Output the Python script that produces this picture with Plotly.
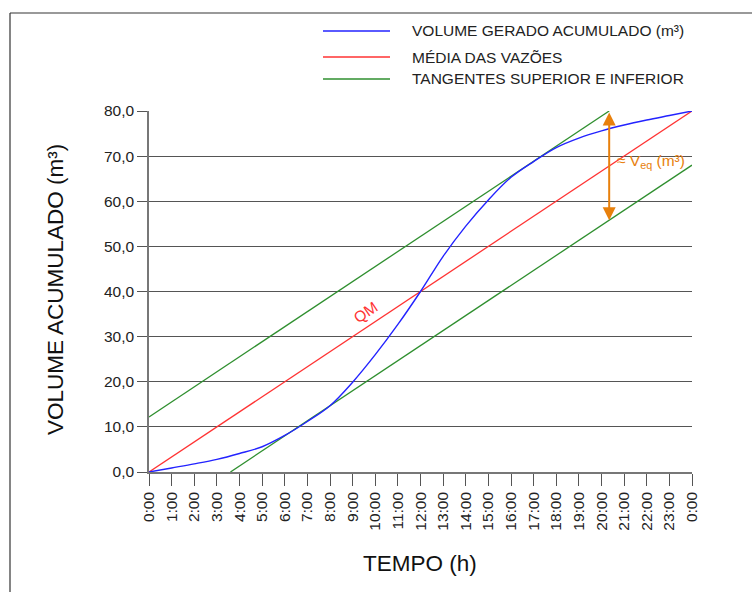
import plotly.graph_objects as go

# ---- data ----
hours = list(range(25))
hour_labels = [f"{h}:00" for h in range(24)] + ["0:00"]
volume = [0, 0.9, 1.8, 2.8, 4.1, 5.6, 8.1, 11.2, 14.7, 19.9, 26.0, 32.7, 40.0,
          47.8, 54.5, 60.3, 65.3, 68.8, 71.9, 74.0, 75.6, 76.9, 78.0, 79.0, 80.0]
mean_x = [0, 24]
mean_y = [0, 80]
upper_x = [0, 20.34]
upper_y = [12.2, 80]
lower_x = [3.6, 24]
lower_y = [0, 68]
y_ticks = [0, 10, 20, 30, 40, 50, 60, 70, 80]
y_labels = [f"{v:.1f}".replace(".", ",") for v in y_ticks]

BLUE = "#2323ff"
RED = "#ff3333"
GREEN = "#2f8f2f"
ORANGE = "#e8800c"
FONT = "Liberation Sans, Arial, sans-serif"

fig = go.Figure()
fig.add_trace(go.Scatter(x=upper_x, y=upper_y, mode="lines",
                         line=dict(color=GREEN, width=1.3), showlegend=False))
fig.add_trace(go.Scatter(x=lower_x, y=lower_y, mode="lines",
                         line=dict(color=GREEN, width=1.3), showlegend=False))
fig.add_trace(go.Scatter(x=mean_x, y=mean_y, mode="lines",
                         line=dict(color=RED, width=1.3), showlegend=False))
fig.add_trace(go.Scatter(x=hours, y=volume, mode="lines",
                         line=dict(color=BLUE, width=1.4, shape="spline", smoothing=1.0),
                         showlegend=False))

# arrow between tangents
ax_x = upper_x[-1]
slope = (lower_y[1] - lower_y[0]) / (lower_x[1] - lower_x[0])
bottom_y = lower_y[0] + slope * (ax_x - lower_x[0])
fig.add_annotation(x=ax_x, y=bottom_y, ax=ax_x, ay=upper_y[-1], xref="x", yref="y",
                   axref="x", ayref="y", showarrow=True, arrowhead=2, arrowside="end+start",
                   arrowsize=1.3, arrowwidth=2, arrowcolor=ORANGE, text="")
fig.add_annotation(x=20.6, y=68.8, xref="x", yref="y", xanchor="left", yanchor="middle",
                   showarrow=False, text="≈ V<sub>eq</sub> (m³)",
                   font=dict(family=FONT, size=15.5, color=ORANGE))
fig.add_annotation(x=9.55, y=35.4, xref="x", yref="y", showarrow=False, text="QM",
                   textangle=-33.6, font=dict(family=FONT, size=15.5, color=RED))

# custom legend
legend_items = [("VOLUME GERADO ACUMULADO (m³)", BLUE, 31),
                ("MÉDIA DAS VAZÕES", RED, 57),
                ("TANGENTES SUPERIOR E INFERIOR", GREEN, 79)]
def px_x(p):
    return (p - 149) / 543
def px_y(p):
    return (472 - p) / 361
for name, col, ypx in legend_items:
    fig.add_shape(type="line", xref="paper", yref="paper", x0=px_x(323), x1=px_x(390),
                  y0=px_y(ypx), y1=px_y(ypx), line=dict(color=col, width=1.5))
    fig.add_annotation(xref="paper", yref="paper", x=px_x(410), y=px_y(ypx), xanchor="left",
                       yanchor="middle", showarrow=False, text=name,
                       font=dict(family=FONT, size=15.5, color="#222"))

# frame lines
fig.add_shape(type="line", xref="paper", yref="paper", x0=px_x(10), x1=px_x(800),
              y0=px_y(13), y1=px_y(13), line=dict(color="#777", width=1.5))
fig.add_shape(type="line", xref="paper", yref="paper", x0=px_x(10), x1=px_x(10),
              y0=px_y(13), y1=px_y(700), line=dict(color="#333", width=1.2))

# axis titles
fig.add_annotation(xref="paper", yref="paper", x=px_x(55), y=px_y(290), showarrow=False,
                   xanchor="center", yanchor="middle",
                   text="VOLUME ACUMULADO (m³)", textangle=-90,
                   font=dict(family=FONT, size=22.5, color="#111"))
fig.add_annotation(xref="paper", yref="paper", x=px_x(420), y=px_y(563), showarrow=False,
                   xanchor="center", yanchor="middle",
                   text="TEMPO (h)", font=dict(family=FONT, size=22.5, color="#111"))

fig.update_layout(
    width=752, height=592,
    margin=dict(l=149, r=60, t=111, b=120),
    paper_bgcolor="white", plot_bgcolor="white",
    font=dict(family=FONT, size=15.5, color="#222"),
    xaxis=dict(range=[0, 24], tickmode="array", tickvals=hours, ticktext=hour_labels,
               tickangle=-90, ticks="outside", ticklen=12, tickcolor="#555", tickwidth=1.3,
               showline=True, linecolor="#777", linewidth=1.5, showgrid=False,
               zeroline=False, tickfont=dict(family=FONT, size=15.5, color="#222")),
    yaxis=dict(range=[0, 80], tickmode="array", tickvals=y_ticks, ticktext=y_labels,
               ticks="outside", ticklen=10, tickcolor="#555", tickwidth=1.3,
               showline=True, linecolor="#777", linewidth=1.5,
               showgrid=True, gridcolor="#555", gridwidth=1.2, zeroline=False,
               tickfont=dict(family=FONT, size=15.5, color="#222")),
)

fig.write_html("out.html")
